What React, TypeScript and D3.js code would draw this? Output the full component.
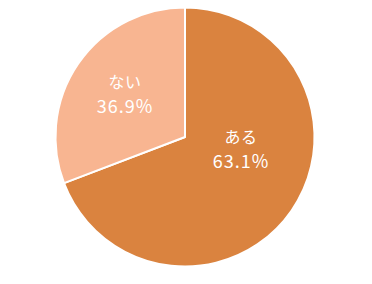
import React from "react";
import * as d3 from "d3";

const categories = ["ある", "ない"];
const values = [69.2, 30.8];
const valueLabels = ["63.1%", "36.9%"];
const colors = ["#DA833F", "#F8B591"];

const W = 372;
const H = 284;
const cx = 185;
const cy = 137;
const R = 129.5;
// label centres (px) relative to pie centre
const labelPos: [number, number][] = [
  [56, 10],
  [-60, -45],
];

export default function App() {
  const pie = d3
    .pie<number>()
    .sort(null)
    .value((d) => d)
    .startAngle(0)
    .endAngle(2 * Math.PI);
  const arcs = pie(values);
  const arc = d3.arc<d3.PieArcDatum<number>>().innerRadius(0).outerRadius(R);
  return (
    <svg
      width={W}
      height={H}
      style={{ position: "absolute", left: 0, top: 0 }}
      fontFamily="'Noto Sans CJK JP', 'Noto Sans', sans-serif"
    >
      <rect width={W} height={H} fill="#fff" />
      <g transform={`translate(${cx},${cy})`}>
        {arcs.map((a, i) => (
          <path key={i} d={arc(a) || ""} fill={colors[i]} stroke="#fff" strokeWidth={2} strokeLinejoin="round" />
        ))}
        {arcs.map((a, i) => (
          <g key={"l" + i} transform={`translate(${labelPos[i][0]},${labelPos[i][1]})`} fill="#fff" textAnchor="middle">
            <text y={-4} fontSize={16} letterSpacing={0.5}>{categories[i]}</text>
            <text y={21} fontSize={18} letterSpacing={1}>{valueLabels[i]}</text>
          </g>
        ))}
      </g>
    </svg>
  );
}
